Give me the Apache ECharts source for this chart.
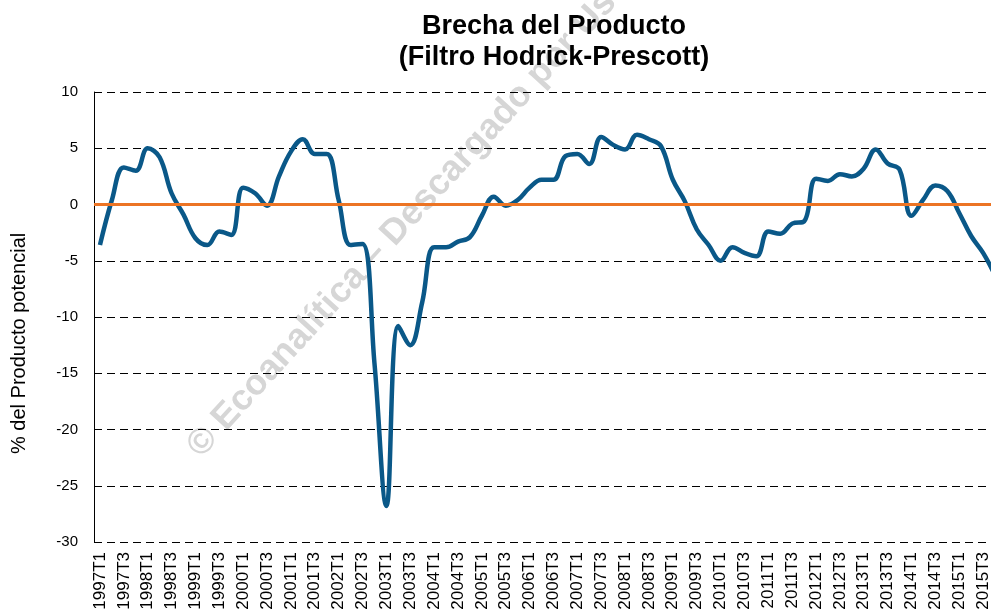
<!DOCTYPE html>
<html>
<head>
<meta charset="utf-8">
<script src="https://cdn.jsdelivr.net/npm/echarts@6/dist/echarts.min.js"></script>
<style>html,body{margin:0;padding:0;background:#fff}#c{width:991px;height:615px}</style>
</head>
<body>
<div id="c"></div>
<script>
var years = [1997,1998,1999,2000,2001,2002,2003,2004,2005,2006,2007,2008,2009,2010,2011,2012,2013,2014,2015];
var quarters = ['T1','T2','T3','T4'];
var categories = [];
years.forEach(function(y){ quarters.forEach(function(q){ categories.push(y + q); }); });

var brecha = [
  -3.6, 0.4, 3.3, 3.0,
   5.0, 4.2, 1.0, -0.9,
  -3.0, -3.6, -2.4, -2.7,
   1.5, 1.0, -0.1, 2.5,
   4.7, 5.8, 4.5, 4.5,
   0.4, -3.6, -3.5, -14.1,
  -26.8, -10.8, -12.5, -8.7,
  -3.8, -3.8, -3.3, -2.9,
  -1.0, 0.7, -0.1, 0.4,
   1.5, 2.2, 2.2, 4.3,
   4.5, 3.6, 6.0, 5.3,
   4.9, 6.2, 5.8, 5.2,
   2.2, 0.3, -2.2, -3.6,
  -5.0, -3.8, -4.3, -4.6,
  -2.4, -2.6, -1.7, -1.5,
   2.3, 2.1, 2.7, 2.5,
   3.2, 4.9, 3.65, 3.1,
  -1.0, 0.45, 1.7, 1.2,
  -0.75, -2.8, -4.3, -6.3
];
var referenceLine = 0;
var yTicks = {min: -30, max: 10, step: 5};

var titleText = 'Brecha del Producto\n(Filtro Hodrick-Prescott)';
var yTitle = '% del Producto potencial';
var watermark = '© Ecoanalítica – Descargado por Usuario';

var FONT = "'Liberation Sans', Arial, sans-serif";
var chart = echarts.init(document.getElementById('c'), null, {renderer: 'canvas'});
chart.setOption({
  animation: false,
  backgroundColor: '#fff',
  title: {
    text: titleText,
    left: 549, top: 6, textAlign: 'center',
    textStyle: {fontFamily: FONT, fontWeight: 'bold', fontSize: 27, lineHeight: 31, color: '#000'}
  },
  graphic: [
    {
      type: 'text', x: 9, y: 454, z: 10,
      rotation: Math.PI / 2,
      style: {text: yTitle, font: '20px ' + FONT, fill: '#000', textAlign: 'left', textVerticalAlign: 'top'}
    },
    {
      type: 'text', x: 194, y: 452, z: -1,
      rotation: 0.83,
      style: {text: watermark, font: 'bold 36px ' + FONT, fill: '#d6d6d6', textVerticalAlign: 'middle', textAlign: 'left'}
    }
  ],
  grid: {left: 94, right: -10, top: 92, bottom: 73, containLabel: false, outerBoundsMode: 'none'},
  xAxis: {
    type: 'category',
    data: categories,
    boundaryGap: true,
    axisLine: {show: false},
    axisTick: {show: false},
    axisLabel: {interval: 1, rotate: 90, fontFamily: FONT, fontSize: 17, color: '#000', margin: 10}
  },
  yAxis: {
    type: 'value',
    min: yTicks.min, max: yTicks.max, interval: yTicks.step,
    axisLine: {show: true, lineStyle: {color: '#000', width: 1}},
    axisTick: {show: false},
    axisLabel: {fontFamily: FONT, fontSize: 15, color: '#000', margin: 16},
    splitLine: {show: true, lineStyle: {color: '#000', width: 1, type: [8, 5]}}
  },
  series: [
    {
      type: 'line', data: [], z: 1, silent: true,
      markLine: {
        silent: true, symbol: 'none', label: {show: false},
        lineStyle: {color: '#ec7424', width: 3, type: 'solid'},
        data: [{yAxis: referenceLine}]
      }
    },
    {
      type: 'line', name: 'Brecha', data: brecha, z: 3,
      smooth: 0.4, symbol: 'none',
      lineStyle: {color: '#0a5888', width: 4.5}
    }
  ]
});
</script>
</body>
</html>
